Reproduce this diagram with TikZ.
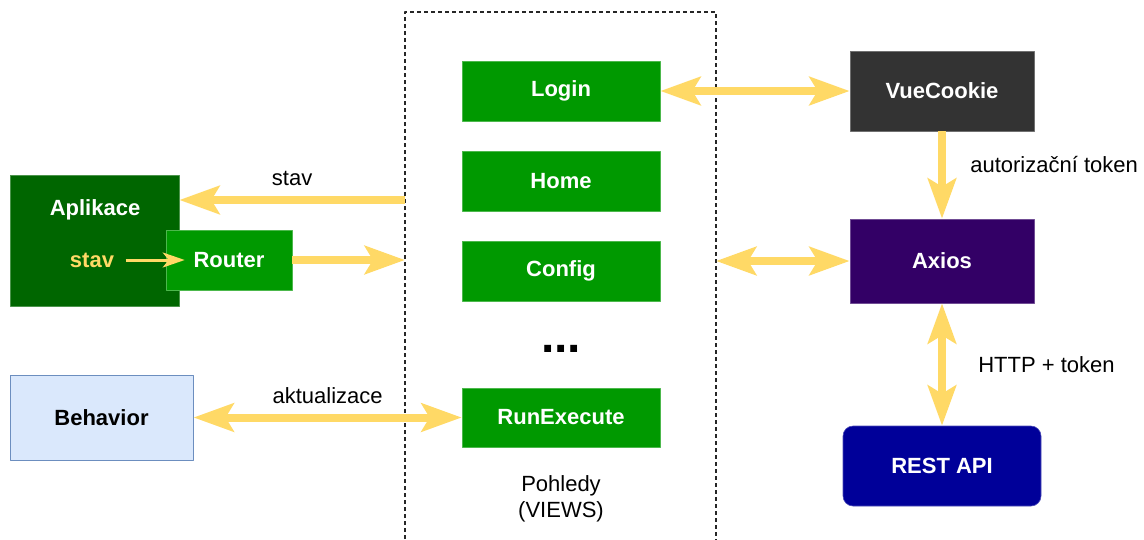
\documentclass[tikz,border=0pt]{standalone}
\usepackage{fontspec}
\setmainfont{Liberation Sans}
\usetikzlibrary{arrows.meta}
\definecolor{arrowyellow}{HTML}{FFD966}
\definecolor{viewgreen}{HTML}{009900}
\definecolor{appgreen}{HTML}{006600}
\definecolor{cookiegray}{HTML}{333333}
\definecolor{axiospurple}{HTML}{330066}
\definecolor{restblue}{HTML}{000099}
\definecolor{behavfill}{HTML}{DAE8FC}
\definecolor{behavline}{HTML}{6C8EBF}
\tikzset{
  box/.style={draw=#1!70!white, fill=#1, line width=.6pt, text=white, font=\bfseries},
  viewbox/.style={box=viewgreen, minimum width=198pt, minimum height=60pt},
  flow/.style={draw=arrowyellow, line width=8pt, -{Stealth[length=40pt,width=28pt,inset=8pt]}},
  dflow/.style={flow, {Stealth[length=40pt,width=28pt,inset=8pt]}-{Stealth[length=40pt,width=28pt,inset=8pt]}},
}
\begin{document}
\fontsize{22}{25.5}\selectfont
\begin{tikzpicture}[x=1pt,y=-1pt, line join=round]
		\clip (0,0) rectangle (1144,539);
		% pohledy
		\draw[black!85, line width=1.5pt, dash pattern=on 4pt off 3pt] (405,560) |- (716,12) -- (716,560);
		\coordinate (viewsleft) at (405,0);
		\coordinate (viewsright) at (716,0);
		\node[viewbox] (login) at (561,91) {Login};
		\node[viewbox] (home) at (561,181) {Home};
		\node[viewbox] (config) at (561,271) {Config};
		\node[font=\fontsize{48}{50}\selectfont\bfseries] (dots) at (561,349) {...};
		\node[viewbox, minimum height=59pt] (run) at (561,417.5) {RunExecute};
		\node[align=center] (views) at (561,499) {Pohledy\\(VIEWS)};
		% aplikace
		\node[box=appgreen, minimum width=169pt, minimum height=131pt] (app) at (94.5,240.5) {};
		\node[text=white, font=\bfseries] (apptitle) at (95,210) {Aplikace};
		\node[box=viewgreen, minimum width=126pt, minimum height=60pt] (router) at (229,260) {Router};
		\node[text=arrowyellow, font=\bfseries] (appstav) at (92,260) {stav};
		\node[draw=behavline, fill=behavfill, line width=1pt, font=\bfseries, minimum width=183pt, minimum height=85pt] (behavior) at (101.5,417.5) {Behavior};
		% sluzby
		\node[box=cookiegray, minimum width=184pt, minimum height=80pt] (cookie) at (942,91) {VueCookie};
		\node[box=axiospurple, minimum width=184pt, minimum height=84pt] (axios) at (942,261) {Axios};
		\node[box=restblue, rounded corners=10pt, minimum width=198pt, minimum height=80pt] (rest) at (942,466) {REST API};
		% toky
		\draw[draw=arrowyellow, line width=3pt, -{Stealth[length=22pt,width=15pt,inset=6pt]}] (appstav.east) ++(4,0) -- ([xshift=19pt]router.west);
		\draw[flow] (viewsleft |- 0,200) -- (app.east |- 0,200) node[midway, above=3pt, text=black] {stav};
		\draw[flow] (router.east) -- (viewsleft |- router.east);
		\draw[dflow] (behavior.east) -- (run.west) node[midway, above=2pt] {aktualizace};
		\draw[dflow] (login.east) -- (cookie.west);
		\draw[dflow] (viewsright |- axios.west) -- (axios.west);
		\draw[flow] (cookie.south) -- (axios.north) node[midway, right=17pt, yshift=10pt] {autorizační token};
		\draw[dflow] (axios.south) -- (rest.north) node[midway, right=25pt] {HTTP + token};
\end{tikzpicture}
\end{document}
